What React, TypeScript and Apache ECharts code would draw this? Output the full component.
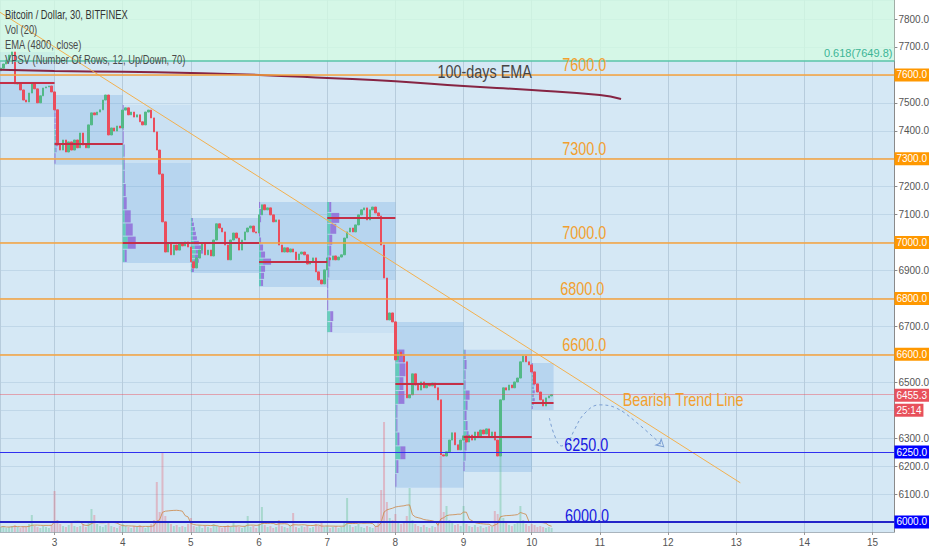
import React, { useEffect, useRef } from 'react';
import * as echarts from 'echarts';

const FONT = "'Liberation Sans', Arial, sans-serif";

// ---- time grid: hourly candles starting day 2, 05:00 ----
const START_DAY = 2 + 5 / 24;
const HOUR = 1 / 24;
const FIRST_OPEN = 7615;

const closes = [
  7624, 7639, 7653, 7671, 7682, 7568, 7568, 7546, 7510, 7503, 7535, 7568, 7550, 7500, 7525, 7553, 7557, 7560, 7539,
  7475, 7349, 7331, 7367, 7324, 7360, 7331, 7367, 7339, 7392, 7349, 7339, 7421, 7464, 7457, 7467, 7475, 7510, 7528, 7385, 7410, 7399, 7417, 7410,
  7474, 7482, 7457, 7467, 7449, 7457, 7432, 7421, 7467, 7474, 7446, 7396, 7331, 7245, 7074, 6966, 6999, 6956, 6991, 6973, 6995, 6988, 7002, 6984,
  6931, 6909, 6945, 6973, 6995, 6956, 6973, 6952, 7009, 7067, 7052, 7038, 6991, 6938, 7009, 7034, 7016, 6973, 7009, 7038, 7052, 7059, 7038, 7034,
  7099, 7135, 7117, 7124, 7099, 7074, 7081, 6991, 6966, 6981, 6966, 6977, 6966, 6938, 6959, 6966, 6956, 6923, 6931, 6945, 6895, 6866, 6852, 6902,
  6945, 6938, 6952, 6938, 6948, 6956, 7016, 7038, 7052, 7038, 7063, 7099, 7117, 7124, 7081, 7117, 7127, 7106, 7095, 6991, 6873, 6723, 6748, 6716,
  6580, 6608, 6594, 6573, 6444, 6455, 6530, 6490, 6472, 6501, 6480, 6494, 6487, 6497, 6480, 6437, 6240, 6236, 6251, 6293, 6319, 6276, 6258, 6293,
  6308, 6286, 6311, 6293, 6322, 6308, 6329, 6315, 6333, 6308, 6322, 6293, 6236, 6437, 6480, 6472, 6490, 6480, 6501, 6515, 6573, 6594, 6573, 6562,
  6537, 6494, 6465, 6437, 6415, 6444, 6451, 6455.3,
];

const volumes = [
  5, 6, 4, 5, 6, 7, 5, 4, 6, 5, 8, 17, 6, 5, 4, 6, 5, 4, 7,
  41, 12, 8, 6, 5, 7, 10, 6, 5, 6, 8, 5, 9, 23, 17, 8, 6, 5, 7, 9, 6, 5, 4, 6,
  8, 6, 5, 4, 6, 5, 7, 5, 4, 6, 8, 12, 50, 20, 80, 16, 10, 8, 6, 7, 5, 6, 5, 8,
  14, 6, 5, 7, 4, 6, 5, 4, 8, 6, 5, 4, 6, 7, 5, 9, 6, 5, 4, 6, 16, 5, 6, 4,
  8, 25, 7, 5, 6, 4, 5, 12, 6, 5, 4, 6, 19, 5, 4, 6, 5, 7, 4, 5, 8, 6, 9, 5,
  6, 4, 5, 6, 4, 5, 9, 34, 7, 5, 6, 8, 5, 4, 6, 5, 4, 6, 9, 42, 110, 30, 14, 12,
  18, 10, 8, 9, 16, 44, 12, 8, 6, 5, 7, 5, 4, 6, 5, 9, 76, 20, 26, 12, 9, 7, 8, 6,
  26, 8, 6, 5, 7, 5, 6, 4, 5, 6, 5, 21, 18, 76, 14, 9, 7, 6, 8, 10, 26, 12, 8, 6,
  8, 7, 5, 6, 5, 4, 5, 4,
];
const VOL_MA_PERIOD = 10; // 20 x 30-minute bars

// ---- EMA (4800) ----
const emaDays = [2.2, 3, 4, 5, 6, 7, 8, 9, 10, 11, 11.31];
const emaValues = [7618, 7614, 7611, 7607, 7600, 7589, 7577, 7560, 7546, 7528, 7514];

// ---- trend line ----
const trendDays = [2.2, 13.06];
const trendPrices = [7824, 6140];

// ---- projected path (dashed) ----
const projDays = [10.259, 10.332, 10.434, 10.536, 10.624, 10.77, 10.988, 11.236, 11.528, 11.936];
const projPrices = [6372, 6311, 6272, 6286, 6329, 6387, 6419, 6408, 6358, 6269];

// ---- levels ----
const resistanceLevels = [7600, 7300, 7000, 6800, 6600];
const supportLevels = [6250, 6000];
const fibLevel = 7649.8;
const lastPrice = 6455.3;
const countdown = '25:14';
const coveredAxisLabels = [6400]; // hidden under the last-price tag

// ---- VPSV sessions ----
const sessionStart = [2.2, 3, 4, 5, 6, 7, 8, 9, 10];
const sessionEnd = [3, 4, 5, 6, 7, 8, 9, 10, 10.32];
const sessionLow = [7449, 7278, 6927, 6891, 6841, 6676, 6122, 6179, 6401];
const sessionHigh = [7682, 7528, 7492, 7088, 7145, 7145, 6716, 6616, 6569];
const valueAreaLow = [7449, 7278, 6927, 6891, 6841, 6866, 6122, 6179, 6401];
const valueAreaHigh = [7575, 7528, 7285, 7088, 7145, 7145, 6716, 6616, 6569];
const pocPrice = [7571, 7353, 6999, 6999, 6930, 7088, 6494, 6304, 6426];
const profileTotal = [
  [0, 0, 0, 0, 0, 0, 0, 0, 0, 0, 0, 0],
  [1, 1, 2, 3, 2, 2, 1, 1, 1, 1, 1, 1],
  [4, 13, 10, 8, 4, 3, 2, 2, 2, 1, 1, 1],
  [3, 5, 8, 10, 12, 11, 8, 6, 5, 4, 3, 2],
  [4, 5, 6, 12, 6, 4, 2, 1, 1, 2, 2, 1],
  [5, 6, 1, 1, 1, 2, 3, 4, 5, 9, 12, 4],
  [1, 3, 10, 4, 2, 2, 9, 8, 10, 9, 1, 1],
  [1, 2, 3, 5, 4, 3, 4, 6, 2, 2, 3, 2],
  [1, 2, 3, 2, 3, 2, 3, 2, 2, 1, 1, 1],
];
const profileUp = [
  [0, 0, 0, 0, 0, 0, 0, 0, 0, 0, 0, 0],
  [0, 0, 1, 1, 1, 1, 0, 0, 0, 0, 0, 0],
  [2, 5, 3, 2, 1, 1, 1, 1, 1, 0, 0, 0],
  [1, 2, 3, 4, 5, 4, 3, 2, 2, 2, 1, 1],
  [2, 2, 2, 4, 2, 1, 1, 0, 0, 1, 1, 0],
  [3, 3, 0, 0, 0, 1, 1, 2, 2, 3, 4, 2],
  [0, 1, 5, 2, 1, 1, 3, 4, 4, 3, 0, 0],
  [0, 1, 1, 3, 2, 1, 2, 2, 1, 1, 1, 1],
  [0, 1, 1, 1, 1, 1, 1, 1, 1, 0, 0, 0],
];

// ---- text annotations (data coordinates) ----
const noteTexts = ['100-days EMA', '7600.0', '7300.0', '7000.0', '6800.0', '6600.0', 'Bearish Trend Line', '6250.0', '6000.0'];
const noteDays = [9.31, 10.77, 10.77, 10.77, 10.74, 10.77, 12.22, 10.8, 10.81];
const notePrices = [7614, 7636, 7336, 7036, 6836, 6636, 6440, 6279, 6025];
const noteKinds = ['ema', 'res', 'res', 'res', 'res', 'res', 'res', 'sup', 'sup'];

const headerLines = [
  'Bitcoin / Dollar, 30, BITFINEX',
  'Vol (20)',
  'EMA (4800, close)',
  'VPSV (Number Of Rows, 12, Up/Down, 70)',
];

const UP = '#53b987';
const DOWN = '#eb4d5c';
const ORANGE = '#f7a33c';

export default function App() {
  const ref = useRef<HTMLDivElement>(null);

  useEffect(() => {
    if (!ref.current) return;
    const chart = echarts.init(ref.current, undefined, { renderer: 'svg' });

    const candles = closes.map((c, i) => {
      const o = i === 0 ? FIRST_OPEN : closes[i - 1];
      return [START_DAY + i * HOUR, o, c, Math.min(o, c), Math.max(o, c)];
    });
    const volData = volumes.map((v, i) => {
      const o = i === 0 ? FIRST_OPEN : closes[i - 1];
      const up = closes[i] >= o;
      return {
        value: [START_DAY + i * HOUR, v],
        itemStyle: { color: up ? 'rgba(83,185,135,0.35)' : 'rgba(235,77,92,0.3)' },
      };
    });
    const volMa = volumes.map((_, i) => {
      const from = Math.max(0, i - VOL_MA_PERIOD + 1);
      const win = volumes.slice(from, i + 1);
      return [START_DAY + i * HOUR, win.reduce((a, b) => a + b, 0) / win.length];
    });

    const profileRows: number[][] = [];
    sessionStart.forEach((s, k) => {
      const step = (sessionHigh[k] - sessionLow[k]) / 12;
      for (let r = 0; r < 12; r++) {
        const tot = profileTotal[k][r];
        if (tot <= 0) continue;
        const up = profileUp[k][r];
        profileRows.push([s, sessionLow[k] + r * step, sessionLow[k] + (r + 1) * step, up, tot - up]);
      }
    });

    const tag = (bg: string) => ({
      show: true,
      position: 'end',
      distance: 0,
      color: '#fff',
      backgroundColor: bg,
      padding: [2, 2, 1, 2],
      fontSize: 10,
      fontFamily: FONT,
    });

    const markLineData: any[] = [];
    resistanceLevels.forEach((p) =>
      markLineData.push({
        yAxis: p,
        lineStyle: { color: ORANGE, width: 1.6, type: 'solid' },
        label: { ...tag('#ff9800'), formatter: p.toFixed(1) },
      })
    );
    supportLevels.forEach((p, i) =>
      markLineData.push({
        yAxis: p,
        lineStyle: { color: i === 0 ? '#3030f0' : '#2424c8', width: i === 0 ? 1 : 2, type: 'solid' },
        label: { ...tag('#0000ff'), formatter: p.toFixed(1) },
      })
    );
    markLineData.push({
      yAxis: fibLevel,
      lineStyle: { color: '#58c4a8', width: 1.5, type: 'solid' },
      label: {
        show: true,
        position: 'insideEndTop',
        formatter: '0.618(' + fibLevel.toFixed(1) + ')',
        color: '#3cb596',
        fontSize: 11,
        fontFamily: FONT,
        distance: 2,
      },
    });
    markLineData.push({
      yAxis: lastPrice,
      lineStyle: { color: 'rgba(235,77,92,0.45)', width: 1, type: 'solid' },
      label: {
        show: true,
        position: 'end',
        distance: 0,
        offset: [0, 8],
        formatter: '{a|' + lastPrice.toFixed(1) + '}\n{b|' + countdown + '}',
        rich: {
          a: { backgroundColor: '#e8505b', color: '#fff', padding: [2, 2, 1, 2], fontSize: 10, fontFamily: FONT, lineHeight: 15 },
          b: { backgroundColor: '#e8505b', color: '#fff', padding: [2, 2, 1, 2], fontSize: 10, fontFamily: FONT, lineHeight: 15 },
        },
      },
    });
    sessionStart.forEach((s, k) => {
      const ls = { color: '#c42f47', width: 2, type: 'solid' };
      markLineData.push([
        { coord: [s, pocPrice[k]], lineStyle: ls, label: { show: false } },
        { coord: [sessionEnd[k], pocPrice[k]], lineStyle: ls, label: { show: false } },
      ]);
    });

    const markAreaData: any[] = [
      [
        { yAxis: fibLevel, itemStyle: { color: 'rgba(212,252,226,0.75)' } },
        { yAxis: 7868 },
      ],
    ];
    sessionStart.forEach((s, k) => {
      markAreaData.push([
        { coord: [s, sessionHigh[k]], itemStyle: { color: 'rgba(60,140,220,0.07)' } },
        { coord: [sessionEnd[k], sessionLow[k]] },
      ]);
      markAreaData.push([
        { coord: [s, valueAreaHigh[k]], itemStyle: { color: 'rgba(60,140,220,0.13)' } },
        { coord: [sessionEnd[k], valueAreaLow[k]] },
      ]);
    });

    const projData: any[] = projDays.map((d, i) => [d, projPrices[i]]);
    projData[projData.length - 1] = {
      value: projData[projData.length - 1],
      symbol: 'arrow',
      symbolSize: [6, 7],
      symbolRotate: -132,
      itemStyle: { color: 'rgba(0,0,0,0)', borderColor: '#7b9fd3', borderWidth: 1 },
    };

    const taggedValues = [...resistanceLevels, ...supportLevels, ...coveredAxisLabels];

    const option: any = {
      animation: false,
      backgroundColor: '#ffffff',
      textStyle: { fontFamily: FONT },
      grid: { left: 0, top: 0, right: 33, bottom: 18, show: true, backgroundColor: '#d5e8f5', borderWidth: 0 },
      xAxis: {
        type: 'value',
        min: 2.2,
        max: 15.32,
        splitNumber: 13,
        minInterval: 1,
        maxInterval: 1,
        axisLine: { show: true, lineStyle: { color: '#a9b4bd' } },
        axisTick: { show: true, length: 3, lineStyle: { color: '#999' } },
        axisLabel: {
          showMinLabel: false,
          showMaxLabel: false,
          color: '#555',
          fontSize: 10,
          fontFamily: FONT,
          margin: 5,
          formatter: (v: number) => String(Math.round(v)),
        },
        splitLine: { show: true, lineStyle: { color: '#b7ccdc', width: 1 } },
      },
      yAxis: [
        {
          type: 'value',
          position: 'right',
          min: 5964,
          max: 7868,
          splitNumber: 19,
          minInterval: 100,
          maxInterval: 100,
          axisLine: { show: true, lineStyle: { color: '#8a8a8a' } },
          axisTick: { show: true, length: 3, lineStyle: { color: '#8a8a8a' } },
          axisLabel: {
            showMinLabel: false,
            showMaxLabel: false,
            color: '#555',
            fontSize: 10,
            fontFamily: FONT,
            margin: 4,
            formatter: (v: number) => (taggedValues.some((t) => Math.abs(t - v) < 1e-6) ? '' : v.toFixed(1)),
          },
          splitLine: { show: true, lineStyle: { color: 'rgba(175,200,220,0.55)', width: 1 } },
        },
        { type: 'value', min: 0, max: 532, show: false },
      ],
      series: [
        {
          name: 'Volume',
          type: 'bar',
          yAxisIndex: 1,
          barWidth: 2,
          z: 1,
          data: volData,
          silent: true,
        },
        {
          name: 'Vol MA',
          type: 'line',
          yAxisIndex: 1,
          data: volMa,
          showSymbol: false,
          z: 1,
          lineStyle: { color: 'rgba(205,140,80,0.85)', width: 1 },
          silent: true,
        },
        {
          name: 'VPSV',
          type: 'custom',
          z: 2,
          silent: true,
          encode: { x: 0, y: [1, 2] },
          data: profileRows,
          renderItem: (params: any, api: any) => {
            const s = api.value(0);
            const lo = api.value(1);
            const hi = api.value(2);
            const up = api.value(3);
            const dn = api.value(4);
            const a = api.coord([s, hi]);
            const b = api.coord([s, lo]);
            const h = Math.max(b[1] - a[1] - 1, 1);
            const children: any[] = [];
            if (up > 0) children.push({ type: 'rect', shape: { x: a[0], y: a[1], width: up, height: h }, style: { fill: 'rgba(70,200,170,0.75)' } });
            if (dn > 0) children.push({ type: 'rect', shape: { x: a[0] + up, y: a[1], width: dn, height: h }, style: { fill: 'rgba(140,100,215,0.8)' } });
            return { type: 'group', children };
          },
        },
        {
          name: 'BTCUSD',
          type: 'candlestick',
          z: 3,
          barWidth: 2,
          data: candles,
          itemStyle: { color: UP, color0: DOWN, borderColor: UP, borderColor0: DOWN, borderWidth: 1 },
          markArea: { silent: true, data: markAreaData, label: { show: false } },
          markLine: { silent: true, symbol: ['none', 'none'], data: markLineData },
        },
        {
          name: 'EMA (4800)',
          type: 'line',
          z: 4,
          smooth: true,
          showSymbol: false,
          data: emaDays.map((d, i) => [d, emaValues[i]]),
          lineStyle: { color: '#862443', width: 2 },
          silent: true,
        },
        {
          name: 'Trend',
          type: 'line',
          z: 4,
          showSymbol: false,
          data: trendDays.map((d, i) => [d, trendPrices[i]]),
          lineStyle: { color: '#f3b04e', width: 1 },
          silent: true,
        },
        {
          name: 'Projection',
          type: 'line',
          z: 4,
          smooth: 0.4,
          showSymbol: true,
          symbol: 'none',
          data: projData,
          lineStyle: { color: '#7b9fd3', width: 1, type: [3, 3] },
          silent: true,
        },
      ],
    };

    chart.setOption(option);

    // annotations: data coordinates converted through the chart's own scales
    const noteColor: Record<string, string> = { ema: '#454545', res: '#f2a02e', sup: '#1818e0' };
    const noteEls = noteTexts.map((t, i) => {
      const p = chart.convertToPixel({ gridIndex: 0 }, [noteDays[i], notePrices[i]]) as number[];
      return {
        type: 'text',
        x: p[0],
        y: p[1],
        scaleX: 0.8,
        z: 20,
        silent: true,
        style: {
          text: t,
          fill: noteColor[noteKinds[i]],
          fontSize: 18,
          fontFamily: FONT,
          align: 'center',
          verticalAlign: 'middle',
        },
      };
    });
    const headerEls = headerLines.map((t, i) => ({
      type: 'text',
      x: 5,
      y: 15 + i * 15,
      scaleX: 0.78,
      z: 20,
      silent: true,
      style: { text: t, fill: i === 0 ? '#333' : '#4a4a4a', fontSize: 12, fontFamily: FONT, align: 'left', verticalAlign: 'middle' },
    }));
    chart.setOption({ graphic: [...headerEls, ...noteEls] });

    return () => chart.dispose();
  }, []);

  return <div ref={ref} style={{ position: 'fixed', left: 0, top: 0, width: 932, height: 550 }} />;
}
